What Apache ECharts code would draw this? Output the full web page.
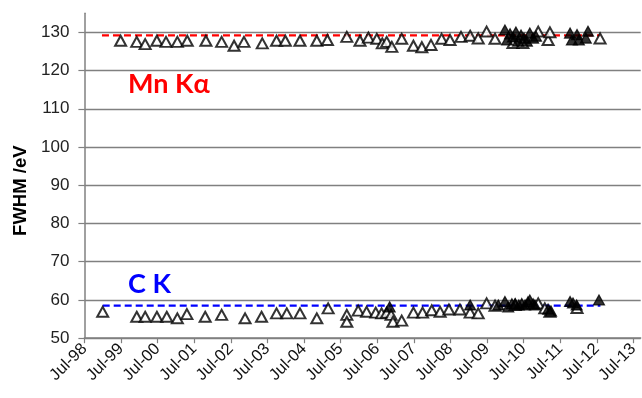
<!DOCTYPE html>
<html>
<head>
<meta charset="utf-8">
<script src="https://cdn.jsdelivr.net/npm/echarts@6/dist/echarts.min.js"></script>
<style>
html,body{margin:0;padding:0;background:#fff;}
#chart{width:642px;height:398px;}
</style>
</head>
<body>
<div id="chart"></div>
<script>
// x values: years since July 1998
const xTickValues = [0,1,2,3,4,5,6,7,8,9,10,11,12,13,14,15];
const xTickLabels = ['Jul-98','Jul-99','Jul-00','Jul-01','Jul-02','Jul-03','Jul-04','Jul-05','Jul-06','Jul-07','Jul-08','Jul-09','Jul-10','Jul-11','Jul-12','Jul-13'];
const yTickValues = [50,60,70,80,90,100,110,120,130];

const mnOpenX = [0.99,1.43,1.66,1.98,2.23,2.54,2.81,3.32,3.75,4.09,4.36,4.86,5.25,5.49,5.89,6.35,6.64,7.17,7.53,7.76,7.99,8.14,8.26,8.40,8.67,8.99,9.22,9.47,9.76,9.99,10.29,10.54,10.76,10.99,11.22,11.71,11.98,12.40,12.67,12.72,14.09];
const mnOpenY = [127.8,127.5,126.9,127.8,127.5,127.5,127.8,127.8,127.5,126.5,127.5,127.1,127.8,127.8,127.8,127.8,128.0,128.8,127.8,128.6,128.3,127.1,127.5,126.2,128.3,126.5,126.1,126.7,128.3,128.0,128.8,129.1,128.4,130.2,128.3,127.2,127.2,130.2,128.0,130.0,128.4];
const mnFilledX = [11.49,11.55,11.63,11.71,11.79,11.85,11.93,12.01,12.09,12.17,12.26,12.34,13.27,13.32,13.46,13.51,13.70,13.76];
const mnFilledY = [130.6,128.0,129.6,128.8,130.1,127.7,129.3,128.5,127.7,129.8,128.5,129.0,129.8,128.0,129.4,128.0,128.5,130.3];

const cOpenX = [0.50,1.43,1.66,1.98,2.25,2.54,2.80,3.30,3.75,4.39,4.84,5.25,5.53,5.89,6.35,6.66,7.17,7.17,7.48,7.71,7.96,8.12,8.26,8.38,8.43,8.67,8.99,9.24,9.49,9.72,9.96,10.26,10.54,10.76,10.99,11.22,11.77,12.40,12.58,12.72,13.46];
const cOpenY = [56.9,55.6,55.6,55.6,55.6,55.2,56.3,55.6,56.1,55.2,55.6,56.5,56.5,56.5,55.2,57.8,56.1,54.3,57.2,56.9,56.7,56.5,56.7,56.1,54.3,54.6,56.7,56.7,57.3,56.9,57.5,57.5,56.7,56.5,59.1,58.5,58.7,59.1,57.8,56.9,57.9];
const cFilledX = [8.34,10.54,11.31,11.49,11.58,11.68,11.77,11.87,11.95,12.04,12.12,12.17,12.26,12.31,12.67,12.75,13.27,13.35,13.45,14.06];
const cFilledY = [58.2,58.7,58.7,59.6,58.2,59.0,59.1,58.7,59.1,58.7,59.5,60.0,59.0,58.7,57.6,57.1,59.6,59.2,58.7,60.0];

const mnRefX = [0.48, 14.1];
const mnRefY = [129.2, 129.2];
const cRefX = [0.5, 14.1];
const cRefY = [58.5, 58.5];

const zip = (xs, ys) => xs.map((x, i) => [x, ys[i]]);

const openStyle = {color:'#ffffff', borderColor:'#000000', borderWidth:2};
const filledStyle = {color:'#000000', borderColor:'#000000', borderWidth:1.2};

const chart = echarts.init(document.getElementById('chart'), null, {renderer:'canvas'});
chart.setOption({
  animation:false,
  backgroundColor:'#ffffff',
  grid:{left:84.4, right:1.3, top:13.2, bottom:59.8},
  xAxis:{
    type:'value', min:0, max:15.2, interval:1,
    axisLine:{show:true, onZero:false, lineStyle:{color:'#808080', width:1.5}},
    axisTick:{show:true, inside:false, length:5, customValues:xTickValues, lineStyle:{color:'#808080', width:1.2}},
    axisLabel:{customValues:xTickValues, rotate:45, margin:8, color:'#111', fontFamily:'Liberation Sans', fontSize:16.5,
      formatter:(v)=>{const i = xTickValues.indexOf(Math.round(v)); return Math.abs(v-Math.round(v))<1e-6 && i>=0 ? xTickLabels[i] : '';}},
    splitLine:{show:false}
  },
  yAxis:{
    type:'value', min:50, max:135, interval:10,
    name:'FWHM /eV', nameLocation:'middle', nameGap:52, nameRotate:90,
    nameTextStyle:{fontFamily:'Liberation Sans', fontWeight:'bold', fontSize:18.5, color:'#000', padding:[0,30,0,0]},
    axisLine:{show:true, lineStyle:{color:'#808080', width:1.5}},
    axisTick:{show:true, inside:false, length:6, customValues:yTickValues, lineStyle:{color:'#808080', width:1.2}},
    axisLabel:{customValues:yTickValues, margin:15, color:'#222', fontFamily:'Liberation Sans', fontSize:17},
    splitLine:{show:true, lineStyle:{color:'#808080', width:1.3}}
  },
  graphic:[
    {type:'text', left:128, top:71, style:{text:'Mn K\u03b1', fill:'#ff0000', font:'bold 27px Lato, "Open Sans", sans-serif'}},
    {type:'text', left:128, top:271, style:{text:'C K', fill:'#0000ff', font:'bold 27px Lato, "Open Sans", sans-serif'}}
  ],
  series:[
    {type:'line', data:zip(mnRefX, mnRefY), symbol:'none', lineStyle:{color:'#ff0000', width:2.2, type:[7,4]}, z:1},
    {type:'line', data:zip(cRefX, cRefY), symbol:'none', lineStyle:{color:'#0000ff', width:2.2, type:[7,4]}, z:1},
    {type:'scatter', data:zip(mnOpenX, mnOpenY), symbol:'triangle', symbolSize:[11,10], itemStyle:openStyle, z:2},
    {type:'scatter', data:zip(cOpenX, cOpenY), symbol:'triangle', symbolSize:[11,10], itemStyle:openStyle, z:2},
    {type:'scatter', data:zip(mnFilledX, mnFilledY), symbol:'triangle', symbolSize:[11,10], itemStyle:filledStyle, z:3},
    {type:'scatter', data:zip(cFilledX, cFilledY), symbol:'triangle', symbolSize:[11,10], itemStyle:filledStyle, z:3}
  ]
});
</script>
</body>
</html>
